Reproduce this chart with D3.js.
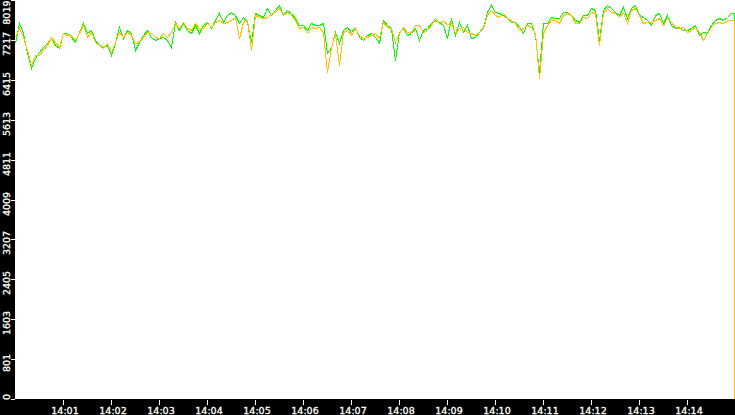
<!DOCTYPE html>
<html>
<head>
<meta charset="utf-8">
<script src="https://cdn.jsdelivr.net/npm/d3@7"></script>
<style>
  body { margin: 0; background: #fff; }
  svg { display: block; }
</style>
</head>
<body>
<div id="chart"></div>
<script>
// samples every 5 s from 14:00:00, last one is the drop just before 14:15
var startTime = new Date(2000, 0, 1, 14, 0, 0);
var endTime = new Date(2000, 0, 1, 14, 15, 0);
var stepSeconds = 5;
var dropTime = new Date(2000, 0, 1, 14, 14, 59);

var greenValues = [
  7148, 7550, 7349, 6947, 6646, 6847, 6981, 7081, 7148, 7282, 7115, 7048, 7349, 7349, 7282, 7182, 7383, 7563, 7349, 7416, 7215, 7115, 7081, 7115, 6914, 7148, 7483, 7249, 7416, 7349,
  7014, 7182, 7316, 7416, 7282, 7215, 7249, 7282, 7215, 7081, 7584, 7416, 7550, 7416, 7349, 7517, 7349, 7517, 7584, 7449, 7617, 7751, 7584, 7718, 7785, 7718, 7550, 7684, 7584, 7182,
  7751, 7718, 7684, 7852, 7718, 7818, 7919, 7718, 7818, 7751, 7651, 7517, 7517, 7416, 7550, 7517, 7517, 7550, 6947, 7081, 7383, 7148, 7416, 7483, 7383, 7483, 7282, 7215, 7316, 7349,
  7282, 7148, 7617, 7517, 7449, 6813, 7383, 7449, 7316, 7349, 7449, 7215, 7416, 7449, 7550, 7617, 7584, 7517, 7249, 7651, 7316, 7584, 7383, 7517, 7249, 7282, 7383, 7483, 7785, 7919,
  7785, 7751, 7718, 7651, 7584, 7584, 7483, 7349, 7550, 7550, 7316, 6579, 7550, 7550, 7684, 7651, 7651, 7785, 7785, 7718, 7617, 7584, 7718, 7718, 7852, 7818, 7215, 7818, 7919, 7852,
  7785, 7718, 7885, 7651, 7852, 7919, 7718, 7684, 7617, 7517, 7718, 7751, 7550, 7718, 7517, 7449, 7483, 7416, 7416, 7449, 7517, 7316, 7383, 7349, 7517, 7617, 7651, 7617, 7684, 7751
];
var greenDrop = 3820;

var orangeValues = [
  7282, 7449, 7282, 7014, 6713, 6914, 6914, 7014, 7115, 7282, 7182, 7081, 7349, 7316, 7316, 7215, 7349, 7517, 7282, 7383, 7182, 7115, 7048, 7148, 6981, 7182, 7383, 7282, 7383, 7316,
  7148, 7182, 7282, 7383, 7349, 7282, 7249, 7349, 7282, 7383, 7550, 7449, 7584, 7449, 7416, 7550, 7449, 7449, 7550, 7483, 7584, 7617, 7550, 7584, 7617, 7684, 7249, 7584, 7617, 7014,
  7718, 7684, 7651, 7684, 7751, 7785, 7852, 7718, 7785, 7718, 7617, 7449, 7483, 7349, 7483, 7449, 7483, 7383, 6579, 7081, 7349, 6713, 7383, 7416, 7316, 7449, 7316, 7249, 7282, 7316,
  7349, 7249, 7584, 7483, 7449, 7182, 7349, 7483, 7383, 7383, 7517, 7517, 7383, 7416, 7517, 7651, 7550, 7617, 7517, 7584, 7349, 7449, 7483, 7383, 7349, 7316, 7383, 7449, 7718, 7818,
  7718, 7684, 7751, 7651, 7617, 7550, 7416, 7449, 7517, 7483, 7349, 6445, 7349, 7517, 7617, 7617, 7550, 7718, 7751, 7718, 7550, 7550, 7684, 7651, 7785, 7751, 7115, 7751, 7852, 7785,
  7751, 7684, 7785, 7550, 7818, 7852, 7718, 7550, 7584, 7584, 7617, 7651, 7517, 7651, 7584, 7483, 7449, 7483, 7383, 7416, 7483, 7383, 7215, 7349, 7483, 7550, 7584, 7550, 7617, 7617
];
var orangeDrop = 0;

var yMax = 8019;
var yTickLabels = ["0", "801", "1603", "2405", "3207", "4009", "4811", "5613", "6415", "7217", "8019"];
var xTickLabels = ["14:01", "14:02", "14:03", "14:04", "14:05", "14:06", "14:07", "14:08", "14:09", "14:10", "14:11", "14:12", "14:13", "14:14"];

const width = 735,
    height = 415,
    left = 15,
    bottom = 399;

function toPoints(values) {
    return values.map(function (v, i) {
        return { t: new Date(startTime.getTime() + i * stepSeconds * 1000), v: v }
    })
}

const x = d3.scaleTime().domain([startTime, endTime]).range([left, width]);
const y = d3.scaleLinear().domain([0, yMax]).range([bottom, 0]);

const svg = d3.select("#chart")
    .append("svg")
    .attr("width", width)
    .attr("height", height);

svg.append("rect")
    .attr("x", 0).attr("y", 0)
    .attr("width", width).attr("height", height)
    .attr("fill", "#fff");

const line = d3.line()
    .x(function (d) { return Math.round(x(d.t)) + 0.5 })
    .y(function (d) { return Math.round(y(d.v)) + 0.5 });

// the final drop is a straight vertical at the right edge
const tail = d3.line()
    .curve(d3.curveStepAfter)
    .x(function (d) { return Math.round(x(d.t)) + 0.5 })
    .y(function (d) { return Math.round(y(d.v)) + 0.5 });

function drawSeries(values, dropValue, color) {
    var pts = toPoints(values);
    svg.append("path")
        .datum(pts)
        .attr("d", line)
        .attr("fill", "none")
        .attr("stroke", color)
        .attr("stroke-width", 1)
        .attr("shape-rendering", "crispEdges");
    svg.append("path")
        .datum([pts[pts.length - 1], { t: dropTime, v: dropValue }])
        .attr("d", tail)
        .attr("fill", "none")
        .attr("stroke", color)
        .attr("stroke-width", 1)
        .attr("shape-rendering", "crispEdges");
}

drawSeries(greenValues, greenDrop, "#00ff00");
drawSeries(orangeValues, orangeDrop, "#ffc000");

// black frame bands
svg.append("rect")
    .attr("x", 0).attr("y", 0)
    .attr("width", left).attr("height", height)
    .attr("fill", "#000");
svg.append("rect")
    .attr("x", 0).attr("y", bottom)
    .attr("width", width).attr("height", height - bottom)
    .attr("fill", "#000");

function labelStyle(sel) {
    sel.attr("fill", "#fff")
        .attr("stroke", "#fff")
        .attr("stroke-width", 0.3)
        .style("font-family", "DejaVu Sans")
        .style("font-size", "9.5px")
        .style("text-anchor", "middle");
}

// left axis
const yAxis = svg.append("g");
yTickLabels.forEach(function (lab) {
    var ty = Math.round(y(+lab));
    yAxis.append("line")
        .attr("x1", 11).attr("x2", left)
        .attr("y1", ty + 0.5).attr("y2", ty + 0.5)
        .attr("stroke", "#fff")
        .attr("stroke-width", 1);
    var txt = yAxis.append("text")
        .text(lab)
        .call(labelStyle);
    var w = txt.node().getComputedTextLength();
    var cy = Math.max(w / 2 + 0.5, Math.min(ty + 4, 400 - w / 2));
    txt.attr("transform", "translate(10," + cy + ") rotate(-90)");
});

// bottom axis
const xAxis = svg.append("g");
xTickLabels.forEach(function (lab) {
    var parts = lab.split(":");
    var t = new Date(2000, 0, 1, +parts[0], +parts[1], 0);
    var tx = Math.round(x(t));
    xAxis.append("line")
        .attr("x1", tx + 0.5).attr("x2", tx + 0.5)
        .attr("y1", bottom + 1).attr("y2", bottom + 6)
        .attr("stroke", "#fff")
        .attr("stroke-width", 1);
    xAxis.append("text")
        .text(lab)
        .attr("x", tx + 2)
        .attr("y", 414)
        .call(labelStyle);
});
</script>
</body>
</html>
